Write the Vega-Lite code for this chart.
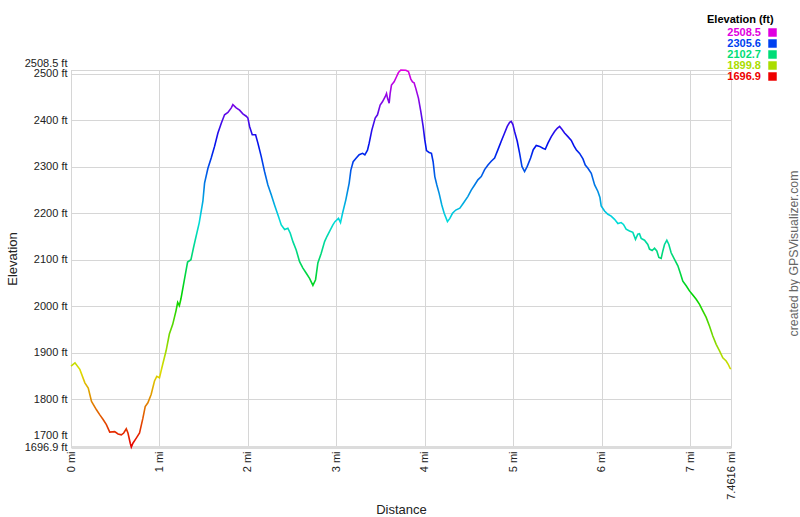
{
  "$schema": "https://vega.github.io/schema/vega-lite/v6.json",
  "width": 660,
  "height": 377,
  "autosize": {"type": "none"},
  "padding": {"left": 71, "top": 70, "right": 69, "bottom": 70},
  "background": "white",
  "config": {
    "font": "Liberation Sans",
    "view": {"stroke": "#c8c8c8", "strokeWidth": 1},
    "axis": {
      "labelFont": "Liberation Sans",
      "titleFont": "Liberation Sans",
      "labelColor": "#222222",
      "titleColor": "#222222",
      "gridColor": "#d6d6d6",
      "gridWidth": 1,
      "ticks": false,
      "labelFontSize": 11,
      "titleFontSize": 13,
      "titleFontWeight": "normal"
    }
  },
  "resolve": {"scale": {"y": "independent"}, "axis": {"y": "independent"}},
  "layer": [
    {
      "data": {
        "values": [
          {"distance": 0, "elevation": 1871}, {"distance": 0.045, "elevation": 1878}, {"distance": 0.1, "elevation": 1864},
          {"distance": 0.157, "elevation": 1835}, {"distance": 0.195, "elevation": 1824}, {"distance": 0.232, "elevation": 1795},
          {"distance": 0.288, "elevation": 1777}, {"distance": 0.326, "elevation": 1766}, {"distance": 0.363, "elevation": 1756},
          {"distance": 0.4, "elevation": 1745}, {"distance": 0.438, "elevation": 1729}, {"distance": 0.494, "elevation": 1730},
          {"distance": 0.532, "elevation": 1725}, {"distance": 0.569, "elevation": 1723}, {"distance": 0.596, "elevation": 1727},
          {"distance": 0.625, "elevation": 1736}, {"distance": 0.644, "elevation": 1727}, {"distance": 0.67, "elevation": 1705},
          {"distance": 0.682, "elevation": 1696.9}, {"distance": 0.7, "elevation": 1705}, {"distance": 0.738, "elevation": 1716},
          {"distance": 0.775, "elevation": 1727}, {"distance": 0.813, "elevation": 1759}, {"distance": 0.839, "elevation": 1784},
          {"distance": 0.869, "elevation": 1792}, {"distance": 0.906, "elevation": 1810}, {"distance": 0.944, "elevation": 1839},
          {"distance": 0.97, "elevation": 1849}, {"distance": 1.0, "elevation": 1846}, {"distance": 1.037, "elevation": 1875},
          {"distance": 1.075, "elevation": 1904}, {"distance": 1.112, "elevation": 1940}, {"distance": 1.15, "elevation": 1961},
          {"distance": 1.187, "elevation": 1990}, {"distance": 1.206, "elevation": 2008}, {"distance": 1.225, "elevation": 2001},
          {"distance": 1.243, "elevation": 2016}, {"distance": 1.28, "elevation": 2055}, {"distance": 1.318, "elevation": 2095},
          {"distance": 1.356, "elevation": 2100}, {"distance": 1.386, "elevation": 2127}, {"distance": 1.404, "elevation": 2142},
          {"distance": 1.45, "elevation": 2180}, {"distance": 1.491, "elevation": 2226}, {"distance": 1.51, "elevation": 2265},
          {"distance": 1.548, "elevation": 2297}, {"distance": 1.585, "elevation": 2319}, {"distance": 1.623, "elevation": 2344},
          {"distance": 1.661, "elevation": 2373}, {"distance": 1.699, "elevation": 2394}, {"distance": 1.736, "elevation": 2412},
          {"distance": 1.774, "elevation": 2417}, {"distance": 1.812, "elevation": 2427}, {"distance": 1.83, "elevation": 2434},
          {"distance": 1.868, "elevation": 2427}, {"distance": 1.906, "elevation": 2422}, {"distance": 1.943, "elevation": 2414},
          {"distance": 1.981, "elevation": 2409}, {"distance": 2.0, "elevation": 2405}, {"distance": 2.019, "elevation": 2387},
          {"distance": 2.049, "elevation": 2369}, {"distance": 2.087, "elevation": 2369}, {"distance": 2.113, "elevation": 2351},
          {"distance": 2.151, "elevation": 2322}, {"distance": 2.188, "elevation": 2290}, {"distance": 2.226, "elevation": 2261},
          {"distance": 2.264, "elevation": 2240}, {"distance": 2.301, "elevation": 2218}, {"distance": 2.339, "elevation": 2197},
          {"distance": 2.377, "elevation": 2175}, {"distance": 2.415, "elevation": 2165}, {"distance": 2.452, "elevation": 2168},
          {"distance": 2.479, "elevation": 2157}, {"distance": 2.509, "elevation": 2139}, {"distance": 2.546, "elevation": 2121},
          {"distance": 2.584, "elevation": 2096}, {"distance": 2.622, "elevation": 2082}, {"distance": 2.66, "elevation": 2071},
          {"distance": 2.697, "elevation": 2060}, {"distance": 2.735, "elevation": 2045}, {"distance": 2.765, "elevation": 2057},
          {"distance": 2.791, "elevation": 2093}, {"distance": 2.829, "elevation": 2114}, {"distance": 2.867, "elevation": 2139},
          {"distance": 2.893, "elevation": 2150}, {"distance": 2.923, "elevation": 2161}, {"distance": 2.961, "elevation": 2175},
          {"distance": 2.984, "elevation": 2182}, {"distance": 3.024, "elevation": 2189}, {"distance": 3.047, "elevation": 2180},
          {"distance": 3.07, "elevation": 2200}, {"distance": 3.107, "elevation": 2229}, {"distance": 3.145, "elevation": 2265},
          {"distance": 3.164, "elevation": 2293}, {"distance": 3.19, "elevation": 2311}, {"distance": 3.22, "elevation": 2318},
          {"distance": 3.258, "elevation": 2326}, {"distance": 3.296, "elevation": 2329}, {"distance": 3.322, "elevation": 2326},
          {"distance": 3.352, "elevation": 2336}, {"distance": 3.371, "elevation": 2351}, {"distance": 3.401, "elevation": 2379},
          {"distance": 3.439, "elevation": 2405}, {"distance": 3.465, "elevation": 2412}, {"distance": 3.495, "elevation": 2433},
          {"distance": 3.521, "elevation": 2440}, {"distance": 3.552, "elevation": 2451}, {"distance": 3.567, "elevation": 2458},
          {"distance": 3.578, "elevation": 2448}, {"distance": 3.597, "elevation": 2437}, {"distance": 3.608, "elevation": 2458},
          {"distance": 3.623, "elevation": 2476}, {"distance": 3.653, "elevation": 2483}, {"distance": 3.68, "elevation": 2494},
          {"distance": 3.702, "elevation": 2503}, {"distance": 3.729, "elevation": 2508.5}, {"distance": 3.785, "elevation": 2508},
          {"distance": 3.815, "elevation": 2505}, {"distance": 3.842, "elevation": 2489}, {"distance": 3.861, "elevation": 2483},
          {"distance": 3.879, "elevation": 2481}, {"distance": 3.898, "elevation": 2469}, {"distance": 3.928, "elevation": 2448},
          {"distance": 3.955, "elevation": 2419}, {"distance": 3.981, "elevation": 2387}, {"distance": 4.0, "elevation": 2358},
          {"distance": 4.019, "elevation": 2335}, {"distance": 4.049, "elevation": 2331}, {"distance": 4.075, "elevation": 2329},
          {"distance": 4.094, "elevation": 2311}, {"distance": 4.113, "elevation": 2279}, {"distance": 4.136, "elevation": 2261},
          {"distance": 4.162, "elevation": 2243}, {"distance": 4.192, "elevation": 2218}, {"distance": 4.219, "elevation": 2200},
          {"distance": 4.256, "elevation": 2182}, {"distance": 4.283, "elevation": 2189}, {"distance": 4.313, "elevation": 2200},
          {"distance": 4.35, "elevation": 2207}, {"distance": 4.396, "elevation": 2211}, {"distance": 4.433, "elevation": 2221},
          {"distance": 4.486, "elevation": 2236}, {"distance": 4.525, "elevation": 2250}, {"distance": 4.563, "elevation": 2261},
          {"distance": 4.6, "elevation": 2272}, {"distance": 4.638, "elevation": 2279}, {"distance": 4.676, "elevation": 2294},
          {"distance": 4.714, "elevation": 2304}, {"distance": 4.751, "elevation": 2312}, {"distance": 4.789, "elevation": 2319},
          {"distance": 4.827, "elevation": 2337}, {"distance": 4.864, "elevation": 2355}, {"distance": 4.902, "elevation": 2373},
          {"distance": 4.932, "elevation": 2387}, {"distance": 4.959, "elevation": 2396}, {"distance": 4.977, "elevation": 2398},
          {"distance": 4.996, "elevation": 2391}, {"distance": 5.015, "elevation": 2376}, {"distance": 5.045, "elevation": 2355},
          {"distance": 5.072, "elevation": 2329}, {"distance": 5.098, "elevation": 2301}, {"distance": 5.128, "elevation": 2290},
          {"distance": 5.158, "elevation": 2301}, {"distance": 5.196, "elevation": 2319}, {"distance": 5.226, "elevation": 2337},
          {"distance": 5.26, "elevation": 2346}, {"distance": 5.298, "elevation": 2344}, {"distance": 5.335, "elevation": 2340},
          {"distance": 5.362, "elevation": 2338}, {"distance": 5.392, "elevation": 2351}, {"distance": 5.43, "elevation": 2365},
          {"distance": 5.467, "elevation": 2376}, {"distance": 5.497, "elevation": 2383}, {"distance": 5.524, "elevation": 2387},
          {"distance": 5.55, "elevation": 2381}, {"distance": 5.58, "elevation": 2373}, {"distance": 5.618, "elevation": 2365},
          {"distance": 5.656, "elevation": 2357}, {"distance": 5.686, "elevation": 2345}, {"distance": 5.712, "elevation": 2337},
          {"distance": 5.75, "elevation": 2329}, {"distance": 5.788, "elevation": 2317}, {"distance": 5.814, "elevation": 2304},
          {"distance": 5.844, "elevation": 2297}, {"distance": 5.882, "elevation": 2286}, {"distance": 5.92, "elevation": 2261},
          {"distance": 5.957, "elevation": 2247}, {"distance": 5.98, "elevation": 2234}, {"distance": 5.994, "elevation": 2216},
          {"distance": 6.032, "elevation": 2205}, {"distance": 6.07, "elevation": 2198}, {"distance": 6.107, "elevation": 2194},
          {"distance": 6.145, "elevation": 2187}, {"distance": 6.183, "elevation": 2178}, {"distance": 6.22, "elevation": 2180},
          {"distance": 6.246, "elevation": 2176}, {"distance": 6.276, "elevation": 2166}, {"distance": 6.314, "elevation": 2162},
          {"distance": 6.352, "elevation": 2159}, {"distance": 6.382, "elevation": 2144}, {"distance": 6.408, "elevation": 2155},
          {"distance": 6.427, "elevation": 2156}, {"distance": 6.446, "elevation": 2146}, {"distance": 6.484, "elevation": 2142},
          {"distance": 6.521, "elevation": 2133}, {"distance": 6.54, "elevation": 2123}, {"distance": 6.57, "elevation": 2120},
          {"distance": 6.597, "elevation": 2125}, {"distance": 6.623, "elevation": 2119}, {"distance": 6.646, "elevation": 2105},
          {"distance": 6.672, "elevation": 2103}, {"distance": 6.691, "elevation": 2119}, {"distance": 6.71, "elevation": 2133},
          {"distance": 6.736, "elevation": 2142}, {"distance": 6.759, "elevation": 2133}, {"distance": 6.785, "elevation": 2115},
          {"distance": 6.823, "elevation": 2101}, {"distance": 6.861, "elevation": 2087}, {"distance": 6.887, "elevation": 2072},
          {"distance": 6.917, "elevation": 2054}, {"distance": 6.955, "elevation": 2044}, {"distance": 6.992, "elevation": 2033},
          {"distance": 7.03, "elevation": 2024}, {"distance": 7.068, "elevation": 2015}, {"distance": 7.106, "elevation": 2004},
          {"distance": 7.143, "elevation": 1990}, {"distance": 7.181, "elevation": 1976}, {"distance": 7.219, "elevation": 1957},
          {"distance": 7.256, "elevation": 1936}, {"distance": 7.294, "elevation": 1918}, {"distance": 7.332, "elevation": 1904},
          {"distance": 7.369, "elevation": 1889}, {"distance": 7.407, "elevation": 1882}, {"distance": 7.43, "elevation": 1875},
          {"distance": 7.452, "elevation": 1866}, {"distance": 7.4616, "elevation": 1865}
        ]
      },
      "mark": {
        "type": "line",
        "strokeWidth": 1.6,
        "clip": false,
        "color": {
          "gradient": "linear",
          "x1": 0, "y1": 1, "x2": 0, "y2": 0,
          "stops": [
            {"offset": 0, "color": "#e60000"},
            {"offset": 0.2, "color": "#dddd00"},
            {"offset": 0.4, "color": "#00d400"},
            {"offset": 0.6, "color": "#00dcdc"},
            {"offset": 0.8, "color": "#0010ee"},
            {"offset": 1, "color": "#e000e0"}
          ]
        }
      },
      "encoding": {
        "x": {
          "field": "distance",
          "type": "quantitative",
          "scale": {"domain": [0, 7.4616], "nice": false, "zero": false},
          "axis": {
            "values": [0, 1, 2, 3, 4, 5, 6, 7, 7.4616],
            "labelExpr": "datum.value + ' mi'",
            "labelAngle": -90,
            "labelPadding": 4,
            "labelFlush": false,
            "labelOverlap": false,
            "title": "Distance",
            "titleY": 62,
            "titleBaseline": "middle",
            "domainColor": "#dcdcdc",
            "domainWidth": 3
          }
        },
        "y": {
          "field": "elevation",
          "type": "quantitative",
          "scale": {"domain": [1696.9, 2508.5], "nice": false, "zero": false},
          "axis": {
            "orient": "left",
            "values": [1696.9, 1700, 1800, 1900, 2000, 2100, 2200, 2300, 2400, 2500, 2508.5],
            "labelExpr": "datum.value + ' ft'",
            "labelOffset": {"expr": "datum.value == 2508.5 ? -7 : (datum.value == 1700 ? -10 : 0)"},
            "labelPadding": 4,
            "labelFlush": false,
            "labelOverlap": false,
            "domain": false,
            "title": "Elevation",
            "titleX": -59,
            "titleBaseline": "middle"
          }
        }
      }
    },
    {
      "data": {
        "values": [
          {"level": "2508.5"}, {"level": "2305.6"}, {"level": "2102.7"}, {"level": "1899.8"}, {"level": "1696.9"}
        ]
      },
      "mark": {"type": "square", "opacity": 0},
      "encoding": {
        "y": {
          "datum": 2000,
          "type": "quantitative",
          "scale": {"domain": [1696.9, 2508.5], "nice": false, "zero": false},
          "axis": {
            "orient": "right",
            "labels": false,
            "ticks": false,
            "domain": false,
            "grid": false,
            "title": "created by GPSVisualizer.com",
            "titleAngle": -90,
            "titleX": 62,
            "titleY": 183,
            "titleBaseline": "middle",
            "titleColor": "#666666",
            "titleFontSize": 12.3,
            "titleFontWeight": "normal"
          }
        },
        "color": {
          "field": "level",
          "type": "nominal",
          "scale": {
            "domain": ["2508.5", "2305.6", "2102.7", "1899.8", "1696.9"],
            "range": ["#e000e0", "#0040f0", "#00dd77", "#aadd00", "#ee0000"]
          },
          "legend": {
            "title": "Elevation (ft)",
            "orient": "none",
            "legendX": 636,
            "legendY": -56,
            "symbolType": "square",
            "symbolSize": 72,
            "symbolOpacity": 1,
            "symbolStrokeWidth": 0,
            "symbolOffset": 60,
            "labelFont": "Liberation Sans",
            "labelFontSize": 11,
            "labelFontWeight": "bold",
            "labelAlign": "right",
            "labelOffset": -17,
            "titleFont": "Liberation Sans",
            "titleFontSize": 11,
            "titleFontWeight": "bold",
            "titleColor": "#000000",
            "titleAnchor": "start",
            "titlePadding": 2,
            "rowPadding": -1,
            "encode": {"labels": {"update": {"fill": {"scale": "color", "field": "value"}}}}
          }
        }
      }
    }
  ]
}
